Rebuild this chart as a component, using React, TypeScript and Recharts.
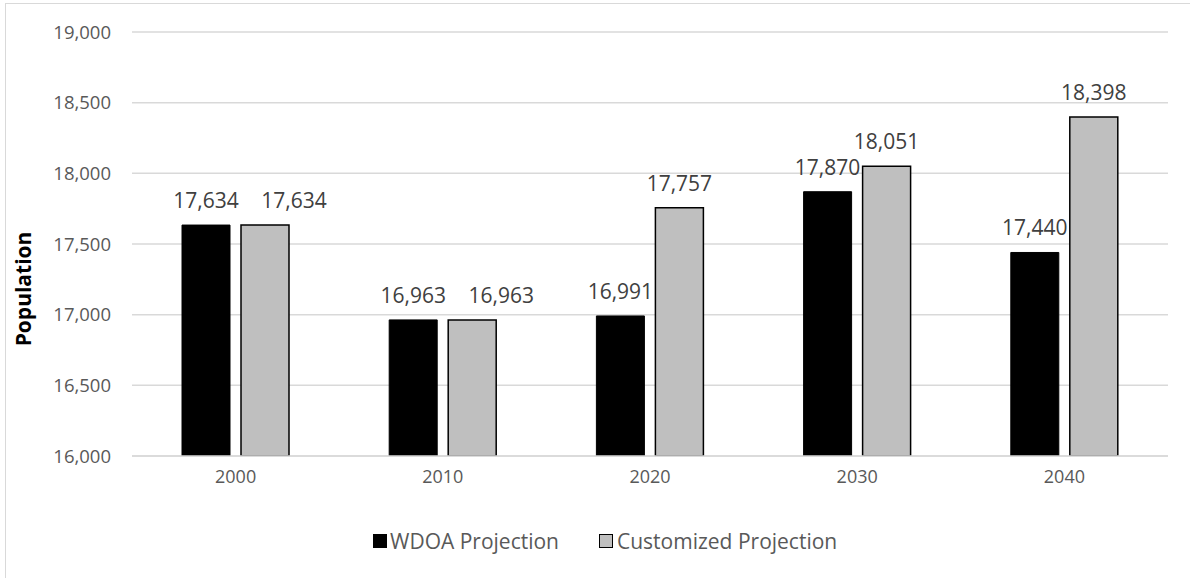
import React from 'react';
import { BarChart, Bar, XAxis, YAxis, CartesianGrid, LabelList, Legend } from 'recharts';

const years = ['2000', '2010', '2020', '2030', '2040'];
const wdoaProjection = [17634, 16963, 16991, 17870, 17440];
const customizedProjection = [17634, 16963, 17757, 18051, 18398];
const yTicks = [16000, 16500, 17000, 17500, 18000, 18500, 19000];

const seriesNames = { wdoa: 'WDOA Projection', custom: 'Customized Projection' };

const data = years.map((year, i) => ({
  year,
  wdoa: wdoaProjection[i],
  custom: customizedProjection[i],
}));

const FONT = '"Open Sans", "Noto Sans", sans-serif';
const fmt = (v: number) => v.toLocaleString('en-US');

const YTitle = (props: any) => {
  const { viewBox } = props;
  const cx = 23;
  const cy = viewBox.y + viewBox.height / 2 + 45;
  return (
    <text
      x={cx}
      y={cy}
      transform={`rotate(-90, ${cx}, ${cy})`}
      textAnchor="middle"
      dominantBaseline="central"
      fontFamily={FONT}
      fontWeight={700}
      fontSize={21}
      fill="#000000"
    >
      Population
    </text>
  );
};

// Value label above a bar; when both series share a value in the same year,
// the second label is nudged right so the two numbers don't collide.
const makeBarLabel = (own: number[], other: number[] | null) => (props: any) => {
  const { x, y, width, index } = props;
  const value = own[index];
  const nudge = other && other[index] === value ? 29 : 0;
  return (
    <text
      x={x + width / 2 + nudge}
      y={y - 17}
      textAnchor="middle"
      fontFamily={FONT}
      fontSize={21}
      fill="#404040"
    >
      {fmt(value)}
    </text>
  );
};

const LegendContent = () => (
  <div
    style={{
      display: 'flex',
      alignItems: 'center',
      height: 30,
      fontFamily: FONT,
      fontSize: 21,
      color: '#595959',
      whiteSpace: 'nowrap',
    }}
  >
    <span style={{ display: 'inline-block', width: 14, height: 14, background: '#000000', marginRight: 3 }} />
    <span>{seriesNames.wdoa}</span>
    <span
      style={{
        display: 'inline-block',
        width: 12,
        height: 12,
        background: '#bfbfbf',
        border: '1.5px solid #000000',
        marginLeft: 40,
        marginRight: 4,
      }}
    />
    <span>{seriesNames.custom}</span>
  </div>
);

export default function App() {
  return (
    <div
      style={{
        position: 'absolute',
        left: 0,
        top: 0,
        width: 1190,
        height: 578,
        overflow: 'hidden',
        background: '#ffffff',
      }}
    >
      <div
        style={{
          position: 'absolute',
          left: 5,
          top: 3,
          width: 1300,
          height: 700,
          borderLeft: '1.5px solid #d9d9d9',
          borderTop: '1.5px solid #d9d9d9',
        }}
      />
      <div style={{ position: 'absolute', left: 0, top: 0 }}>
        <BarChart
          width={1190}
          height={578}
          data={data}
          margin={{ top: 32, right: 22, left: 0, bottom: 52 }}
          barGap={11}
          barSize={48}
        >
          <CartesianGrid vertical={false} stroke="#d9d9d9" strokeWidth={1.5} />
          <XAxis
            dataKey="year"
            height={40}
            tickLine={false}
            tickSize={0}
            tickMargin={14}
            axisLine={{ stroke: '#d9d9d9', strokeWidth: 1.5 }}
            tick={{ fontFamily: FONT, fontSize: 18, fill: '#595959' }}
          />
          <YAxis
            width={132}
            domain={[16000, 19000]}
            ticks={yTicks}
            allowDataOverflow
            tickLine={false}
            tickSize={0}
            tickMargin={21}
            axisLine={false}
            tickFormatter={fmt}
            tick={{ fontFamily: FONT, fontSize: 18.5, fill: '#595959' }}
            label={<YTitle />}
          />
          <Legend
            verticalAlign="bottom"
            content={<LegendContent />}
            wrapperStyle={{ left: 373, top: 526, width: 'auto', bottom: 'auto' }}
          />
          <Bar dataKey="wdoa" name={seriesNames.wdoa} fill="#000000" stroke="#000000" strokeWidth={1} isAnimationActive={false}>
            <LabelList dataKey="wdoa" content={makeBarLabel(wdoaProjection, null)} />
          </Bar>
          <Bar dataKey="custom" name={seriesNames.custom} fill="#bfbfbf" stroke="#000000" strokeWidth={1.5} isAnimationActive={false}>
            <LabelList dataKey="custom" content={makeBarLabel(customizedProjection, wdoaProjection)} />
          </Bar>
        </BarChart>
      </div>
    </div>
  );
}
